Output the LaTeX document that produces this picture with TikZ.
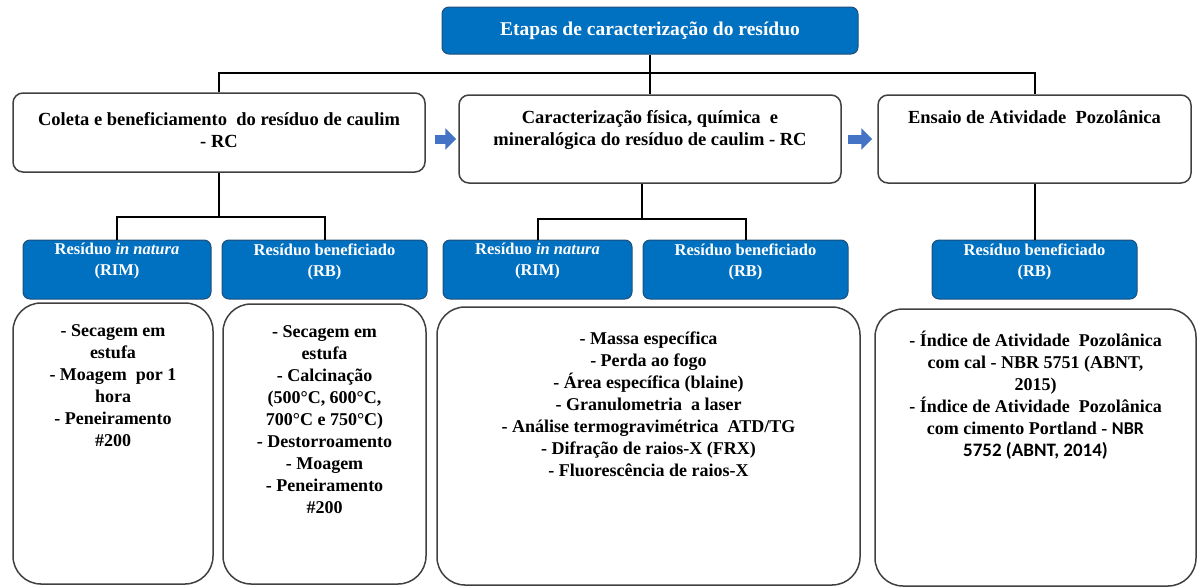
\documentclass[tikz,border=0pt]{standalone}
\usepackage{fontspec}
\setmainfont{Liberation Serif}[
  BoldFont={Liberation Serif Bold},
  ItalicFont={Liberation Serif Italic},
  BoldItalicFont={Liberation Serif Bold Italic}]
\newfontfamily\sansbold{Carlito}[BoldFont={Carlito Bold}]
\usetikzlibrary{arrows.meta, positioning}

\definecolor{boxblue}{RGB}{0,112,192}
\definecolor{boxblueline}{RGB}{31,78,121}
\definecolor{arrowblue}{RGB}{68,114,196}
\definecolor{boxgray}{RGB}{64,64,64}

\tikzset{
  titlebox/.style={draw=boxblueline, fill=boxblue, line width=1pt, rounded corners=7pt,
    minimum width=416pt, minimum height=47pt, text=white,
    font=\rmfamily\fontsize{19.5}{23}\selectfont\bfseries},
  stagebox/.style={draw=boxgray, line width=1.5pt, rounded corners=10pt},
  samplebox/.style={draw=boxblueline, fill=boxblue, line width=1pt, rounded corners=7pt,
    minimum height=59pt},
  listbox/.style={draw=boxgray, line width=1.5pt, rounded corners=28pt},
  stagetext/.style={align=center, inner sep=0pt, font=\rmfamily\fontsize{18.5}{22.5}\selectfont\bfseries},
  sampletext/.style={align=center, inner sep=0pt, text=white,
    font=\rmfamily\fontsize{16.5}{21}\selectfont\bfseries},
  listtext/.style={align=center, inner sep=0pt, font=\rmfamily\fontsize{18}{22}\selectfont\bfseries},
  link/.style={line width=2pt},
  flowarrow/.style={draw=arrowblue, line width=9pt, -{Triangle[length=11pt,width=21pt]}},
}

\begin{document}
\begin{tikzpicture}[x=1pt, y=-1pt]
\useasboundingbox (0,0) rectangle (1201,587);

% titulo
\node[titlebox] (etapas) at (650,30.5) {Etapas de caracterização do resíduo};

% etapas
\node[stagebox, minimum width=412pt, minimum height=79pt] (coleta) at (219,132.5) {};
\node[stagebox, minimum width=382pt, minimum height=88pt] (carac) at (650,139) {};
\node[stagebox, minimum width=313pt, minimum height=88pt] (ensaio) at (1034.5,139) {};
\node[stagetext, below=20pt of coleta.north] (coletatxt)
  {Coleta e beneficiamento\ \ do resíduo de caulim\\- RC};
\node[stagetext, below=16pt of carac.north] (caractxt)
  {Caracterização física, química\ \ e\\mineralógica do resíduo de caulim - RC};
\node[stagetext, below=16pt of ensaio.north] (ensaiotxt) {Ensaio de Atividade\ \ Pozolânica};

% amostras
\node[samplebox, minimum width=188pt] (rim1) at (117,269.5) {};
\node[samplebox, minimum width=205pt] (rb1) at (324.5,269.5) {};
\node[samplebox, minimum width=189pt] (rim2) at (537.5,269.5) {};
\node[samplebox, minimum width=205pt] (rb2) at (745.5,269.5) {};
\node[samplebox, minimum width=205pt] (rb3) at (1034.5,269.5) {};
\node[sampletext, yshift=8pt] (rim1txt) at (rim1) {Resíduo \textit{in natura}\\(RIM)};
\node[sampletext, yshift=8pt] (rb1txt) at (rb1) {Resíduo beneficiado\\(RB)};
\node[sampletext, yshift=8pt] (rim2txt) at (rim2) {Resíduo \textit{in natura}\\(RIM)};
\node[sampletext, yshift=8pt] (rb2txt) at (rb2) {Resíduo beneficiado\\(RB)};
\node[sampletext, yshift=8pt] (rb3txt) at (rb3) {Resíduo beneficiado\\(RB)};

% listas
\node[listbox, minimum width=200pt, minimum height=281pt] (lista1) at (113,443.5) {};
\node[listbox, minimum width=203pt, minimum height=280pt] (lista2) at (324.5,444) {};
\node[listbox, minimum width=423pt, minimum height=278pt] (lista3) at (648.5,446) {};
\node[listbox, minimum width=321pt, minimum height=277pt] (lista4) at (1035.5,447.5) {};
\node[listtext, below=22pt of lista1.north] (lista1txt)
  {- Secagem em\\estufa\\- Moagem\ \ por 1\\hora\\- Peneiramento\\\#200};
\node[listtext, below=22pt of lista2.north] (lista2txt)
  {- Secagem em\\estufa\\- Calcinação\\(500°C, 600°C,\\700°C e 750°C)\\- Destorroamento\\- Moagem\\- Peneiramento\\\#200};
\node[listtext, below=25pt of lista3.north] (lista3txt)
  {- Massa específica\\- Perda ao fogo\\- Área específica (blaine)\\- Granulometria\ \ a laser\\- Análise termogravimétrica\ \ ATD/TG\\- Difração de raios-X (FRX)\\- Fluorescência de raios-X};
\node[listtext, below=23pt of lista4.north] (lista4txt)
  {- Índice de Atividade\ \ Pozolânica\\com cal - NBR 5751 (ABNT,\\2015)\\- Índice de Atividade\ \ Pozolânica\\com cimento Portland - {\sansbold NBR}\\{\sansbold\fontsize{19}{22}\selectfont 5752 (ABNT, 2014)}};

% ligacoes
\coordinate (bus) at (650,73);
\draw[link] (etapas) -- (carac);
\draw[link] (coleta.north) |- (bus) -| (ensaio.north);
\coordinate (sub1) at (coleta.south |- 0,217);
\draw[link] (coleta.south) -- (sub1);
\draw[link] (rim1.north) |- (sub1) -| (rb1.north);
\coordinate (sub2) at (642,219);
\draw[link] (sub2 |- carac.south) -- (sub2);
\draw[link] (rim2.north) |- (sub2) -| (rb2.north);
\draw[link] (ensaio) -- (rb3);

% setas
\draw[flowarrow, shorten <=9pt, shorten >=2pt] (coleta.east |- carac.west) -- (carac.west);
\draw[flowarrow, shorten <=6pt, shorten >=5pt] (carac.east) -- (ensaio.west);
\end{tikzpicture}
\end{document}
